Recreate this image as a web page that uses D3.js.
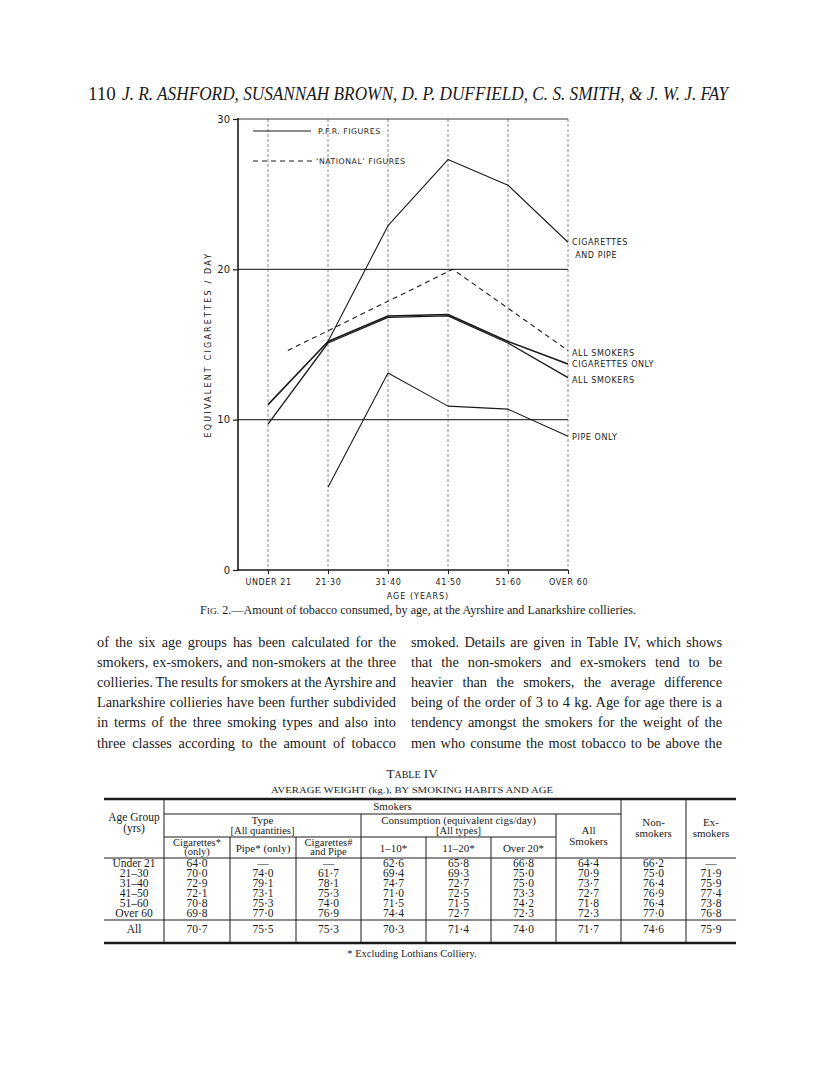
<!DOCTYPE html>
<html><head><meta charset="utf-8">
<script src="https://cdn.jsdelivr.net/npm/d3@7"></script>
<style>body{margin:0;background:#fff}svg{display:block}</style>
</head><body>
<svg id="page" width="816" height="1086"></svg>
<script>
// ---------- chart data ----------
const categories = ["UNDER 21", "21·30", "31·40", "41·50", "51·60", "OVER 60"];
const yTicks = [0, 10, 20, 30];
const cigAndPipe = [null, 15.2, 22.9, 27.3, 25.6, 21.8];
const cigOnly = [11.0, 15.2, 16.9, 17.0, 15.2, 13.7];
const allSmokers = [9.7, 15.1, 16.8, 16.9, 15.1, 12.8];
const pipeOnly = [null, 5.5, 13.1, 10.9, 10.7, 8.9];
const nationalAge = [0.33, 3.08, 5];      // position on the age axis (category index)
const nationalAll = [14.6, 20.0, 14.6];

// ---------- table data ----------
const ageGroups = ["Under 21", "21–30", "31–40", "41–50", "51–60", "Over 60"];
const wCigOnly = [64.0, 70.0, 72.9, 72.1, 70.8, 69.8, 70.7];
const wPipeOnly = [null, 74.0, 79.1, 73.1, 75.3, 77.0, 75.5];
const wCigPipe = [null, 61.7, 78.1, 75.3, 74.0, 76.9, 75.3];
const w1to10 = [62.6, 69.4, 74.7, 71.0, 71.5, 74.4, 70.3];
const w11to20 = [65.8, 69.3, 72.7, 72.5, 71.5, 72.7, 71.4];
const wOver20 = [66.8, 75.0, 75.0, 73.3, 74.2, 72.3, 74.0];
const wAllSmokers = [64.4, 70.9, 73.7, 72.7, 71.8, 72.3, 71.7];
const wNonSmokers = [66.2, 75.0, 76.4, 76.9, 76.4, 77.0, 74.6];
const wExSmokers = [null, 71.9, 75.9, 77.4, 73.8, 76.8, 75.9];

const leftColumn = [
  "of the six age groups has been calculated for the",
  "smokers, ex-smokers, and non-smokers at the three",
  "collieries. The results for smokers at the Ayrshire and",
  "Lanarkshire collieries have been further subdivided",
  "in terms of the three smoking types and also into",
  "three classes according to the amount of tobacco"];
const rightColumn = [
  "smoked. Details are given in Table IV, which shows",
  "that the non-smokers and ex-smokers tend to be",
  "heavier than the smokers, the average difference",
  "being of the order of 3 to 4 kg. Age for age there is a",
  "tendency amongst the smokers for the weight of the",
  "men who consume the most tobacco to be above the"];

const serif = "'Liberation Serif','Times New Roman',serif";
const sans = "'DejaVu Sans','Liberation Sans',sans-serif";
const ink = "#1a1a1a";

const svg = d3.select("#page");

// ---------- running head ----------
svg.append("text").attr("x", 88).attr("y", 100).attr("font-family", serif)
  .attr("font-size", 19).attr("fill", ink).text("110");
svg.append("text").attr("x", 122).attr("y", 100).attr("font-family", serif)
  .attr("font-style", "italic").attr("font-size", 19).attr("fill", ink)
  .attr("textLength", 606).attr("lengthAdjust", "spacingAndGlyphs")
  .text("J. R. ASHFORD, SUSANNAH BROWN, D. P. DUFFIELD, C. S. SMITH, & J. W. J. FAY");

// ---------- chart ----------
const x = d3.scaleLinear().domain([0, 5]).range([268, 568]);
const y = d3.scaleLinear().domain([0, 30]).range([570, 119]);
const xLeft = x(-0.5);
const chart = svg.append("g");

// vertical grid (dotted)
chart.selectAll("line.vg").data(categories).join("line").attr("class", "vg")
  .attr("x1", (d, i) => x(i)).attr("x2", (d, i) => x(i))
  .attr("y1", y(30)).attr("y2", y(0))
  .attr("stroke", "#8a8a8a").attr("stroke-width", 1).attr("stroke-dasharray", "3,2");
// horizontal grid
chart.selectAll("line.hg").data([10, 20, 30]).join("line").attr("class", "hg")
  .attr("x1", xLeft).attr("x2", x(5)).attr("y1", d => y(d)).attr("y2", d => y(d))
  .attr("stroke", "#3a3a3a").attr("stroke-width", 1.2);

// axes
const yAxis = d3.axisLeft(y).tickValues(yTicks).tickSize(5).tickPadding(3).tickFormat(d3.format("d"));
const gy = chart.append("g").attr("transform", `translate(${xLeft},0)`).call(yAxis);
gy.select(".domain").remove();
gy.selectAll("line").attr("stroke", ink).attr("stroke-width", 1.2);
gy.selectAll("text").attr("font-family", sans).attr("font-size", 10).attr("fill", ink);

const xAxis = d3.axisBottom(x).tickValues(d3.range(categories.length)).tickSize(4).tickPadding(5)
  .tickFormat(i => categories[i]);
const gx = chart.append("g").attr("transform", `translate(0,${y(0)})`).call(xAxis);
gx.select(".domain").remove();
gx.selectAll("line").attr("stroke", ink).attr("stroke-width", 1);
gx.selectAll("text").attr("font-family", sans).attr("font-size", 8)
  .attr("letter-spacing", 0.6).attr("fill", ink);

chart.append("line").attr("x1", xLeft).attr("x2", xLeft).attr("y1", y(30) - 1).attr("y2", y(0) + 1)
  .attr("stroke", ink).attr("stroke-width", 1.6);
chart.append("line").attr("x1", xLeft).attr("x2", x(5)).attr("y1", y(0)).attr("y2", y(0))
  .attr("stroke", ink).attr("stroke-width", 1.6);

// axis titles
chart.append("text").attr("transform", `translate(211,${y(15)}) rotate(-90)`)
  .attr("text-anchor", "middle").attr("font-family", sans).attr("font-size", 8)
  .attr("letter-spacing", 2.2).attr("fill", ink).text("EQUIVALENT CIGARETTES / DAY");
chart.append("text").attr("x", x(2.5)).attr("y", 599).attr("text-anchor", "middle")
  .attr("font-family", sans).attr("font-size", 8).attr("letter-spacing", 1)
  .attr("fill", ink).text("AGE (YEARS)");

// series
const line = d3.line().defined(d => d[1] != null).x(d => x(d[0])).y(d => y(d[1]));
const idx = arr => arr.map((v, i) => [i, v]);
const series = [
  {data: idx(cigAndPipe), w: 1.1, dash: null},
  {data: idx(cigOnly), w: 1.6, dash: null},
  {data: idx(allSmokers), w: 1.3, dash: null},
  {data: idx(pipeOnly), w: 1.1, dash: null},
  {data: nationalAge.map((a, i) => [a, nationalAll[i]]), w: 1.1, dash: "5,4"}
];
chart.selectAll("path.series").data(series).join("path").attr("class", "series")
  .attr("d", d => line(d.data)).attr("fill", "none").attr("stroke", ink)
  .attr("stroke-width", d => d.w).attr("stroke-dasharray", d => d.dash)
  .attr("stroke-linejoin", "round");

// end labels
const endLabels = [
  {lines: ["CIGARETTES", " AND PIPE"], v: cigAndPipe[5], dy: 3},
  {lines: ["ALL SMOKERS"], v: nationalAll[2], dy: 5},
  {lines: ["CIGARETTES ONLY"], v: cigOnly[5], dy: 3},
  {lines: ["ALL SMOKERS"], v: allSmokers[5], dy: 5},
  {lines: ["PIPE ONLY"], v: pipeOnly[5], dy: 4}
];
endLabels.forEach(l => {
  const t = chart.append("text").attr("font-family", sans).attr("font-size", 8)
    .attr("letter-spacing", 0.6).attr("fill", ink);
  l.lines.forEach((s, k) => t.append("tspan").attr("x", x(5) + 4)
    .attr("y", y(l.v) + l.dy + k * 12.5).attr("xml:space", "preserve").text(s));
});

// legend
const legend = chart.append("g");
legend.append("line").attr("x1", 253).attr("x2", 311).attr("y1", 131).attr("y2", 131)
  .attr("stroke", ink).attr("stroke-width", 1.2);
legend.append("line").attr("x1", 253).attr("x2", 312).attr("y1", 161).attr("y2", 161)
  .attr("stroke", ink).attr("stroke-width", 1.1).attr("stroke-dasharray", "5,4");
legend.append("text").attr("x", 318).attr("y", 134).attr("font-family", sans).attr("font-size", 7.8)
  .attr("letter-spacing", 0.5).attr("fill", ink).text("P.F.R. FIGURES");
legend.append("text").attr("x", 316).attr("y", 164).attr("font-family", sans).attr("font-size", 7.8)
  .attr("letter-spacing", 0.5).attr("fill", ink).text("‘NATIONAL’ FIGURES");

// caption
const cap = svg.append("text").attr("x", 200).attr("y", 614).attr("font-family", serif)
  .attr("font-size", 11.5).attr("fill", ink)
  .attr("textLength", 436).attr("lengthAdjust", "spacingAndGlyphs");
cap.append("tspan").text("F");
cap.append("tspan").attr("font-size", 9).text("IG.");
cap.append("tspan").text(" 2.—Amount of tobacco consumed, by age, at the Ayrshire and Lanarkshire collieries.");

// ---------- body text ----------
function justify(sel, width) {
  const n = sel.node();
  const w = n.getComputedTextLength();
  const spaces = (n.textContent.match(/ /g) || []).length;
  if (spaces) sel.attr("word-spacing", (width - w) / spaces);
}
function column(lines, x0, width) {
  lines.forEach((s, i) => {
    const t = svg.append("text").attr("x", x0).attr("y", 647 + i * 20.1)
      .attr("font-family", serif).attr("font-size", 14.3).attr("fill", ink).text(s);
    justify(t, width);
  });
}
column(leftColumn, 97, 299);
column(rightColumn, 411, 311);

// ---------- table ----------
const tt = svg.append("text").attr("x", 412).attr("y", 778).attr("text-anchor", "middle")
  .attr("font-family", serif).attr("font-size", 13).attr("fill", ink);
tt.append("tspan").text("T");
tt.append("tspan").attr("font-size", 10).text("ABLE");
tt.append("tspan").text(" IV");
svg.append("text").attr("x", 412).attr("y", 793).attr("text-anchor", "middle")
  .attr("font-family", serif).attr("font-size", 9).attr("fill", ink)
  .attr("textLength", 282).attr("lengthAdjust", "spacingAndGlyphs")
  .text("AVERAGE WEIGHT (kg.), BY SMOKING HABITS AND AGE");

const edges = [104, 164, 230, 296, 361, 426, 491, 556, 621, 686, 736];
const mid = i => (edges[i] + edges[i + 1]) / 2;
const T = {top: 799, smk: 814, type: 837, head: 858, rows: 867, rowH: 10, sep: 920, all: 933, bot: 943};
const tab = svg.append("g").attr("font-family", serif).attr("fill", ink);
const hline = (x1, x2, yy, w) => tab.append("line").attr("x1", x1).attr("x2", x2)
  .attr("y1", yy).attr("y2", yy).attr("stroke", ink).attr("stroke-width", w);
const vline = (xx, y1, y2) => tab.append("line").attr("x1", xx).attr("x2", xx)
  .attr("y1", y1).attr("y2", y2).attr("stroke", ink).attr("stroke-width", 1);
hline(edges[0], edges[10], T.top, 2.6);
hline(edges[1], edges[8], T.smk, 1);
hline(edges[1], edges[7], T.type, 1);
hline(edges[0], edges[10], T.head, 1);
hline(edges[0], edges[10], T.sep, 1);
hline(edges[0], edges[10], T.bot, 2.6);
[1, 8, 9].forEach(i => vline(edges[i], T.top, T.bot));
[4, 7].forEach(i => vline(edges[i], T.smk, T.bot));
[2, 3, 5, 6].forEach(i => vline(edges[i], T.type, T.bot));

const ctext = (xx, yy, s, size) => tab.append("text").attr("x", xx).attr("y", yy)
  .attr("text-anchor", "middle").attr("font-size", size || 11.5).text(s);
ctext(mid(0), 821, "Age Group", 11.5); ctext(mid(0), 831.5, "(yrs)", 11.5);
ctext((edges[1] + edges[8]) / 2, 810, "Smokers", 11);
ctext((edges[1] + edges[4]) / 2, 824, "Type", 11); ctext((edges[1] + edges[4]) / 2, 834, "[All quantities]", 10.5);
ctext((edges[4] + edges[7]) / 2, 824, "Consumption (equivalent cigs/day)", 11);
ctext((edges[4] + edges[7]) / 2, 834, "[All types]", 10.5);
ctext(mid(7), 834, "All", 11); ctext(mid(7), 845, "Smokers", 11);
ctext(mid(8), 826, "Non-", 11); ctext(mid(8), 837, "smokers", 11);
ctext(mid(9), 826, "Ex-", 11); ctext(mid(9), 837, "smokers", 11);
ctext(mid(1), 846, "Cigarettes*", 10.5); ctext(mid(1), 855, "(only)", 10.5);
ctext(mid(2), 852, "Pipe* (only)", 11);
ctext(mid(3), 846, "Cigarettes#", 10.5); ctext(mid(3), 855, "and Pipe", 10.5);
ctext(mid(4), 852, "1–10*", 11); ctext(mid(5), 852, "11–20*", 11); ctext(mid(6), 852, "Over 20*", 11);

const fmt = v => v == null ? "—" : d3.format(".1f")(v).replace(".", "·");
const cols = [wCigOnly, wPipeOnly, wCigPipe, w1to10, w11to20, wOver20, wAllSmokers, wNonSmokers, wExSmokers];
ageGroups.forEach((a, r) => {
  const yy = T.rows + r * T.rowH;
  ctext(mid(0), yy, a, 11.5);
  cols.forEach((c, k) => ctext(mid(k + 1), yy, fmt(c[r]), 11.5));
});
ctext(mid(0), T.all, "All", 11.5);
cols.forEach((c, k) => ctext(mid(k + 1), T.all, fmt(c[6]), 11.5));

svg.append("text").attr("x", 412).attr("y", 957).attr("text-anchor", "middle")
  .attr("font-family", serif).attr("font-size", 10.5).attr("fill", ink)
  .text("* Excluding Lothians Colliery.");
</script>
</body></html>
